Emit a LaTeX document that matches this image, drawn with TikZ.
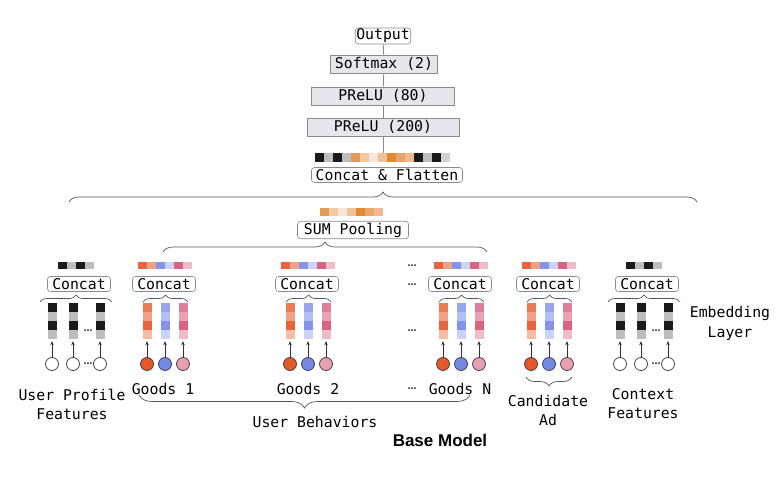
\documentclass[tikz,border=0pt]{standalone}
\usepackage{fontspec}
\setmonofont{DejaVu Sans Mono}
\setsansfont{Liberation Sans}
\newfontfamily\dotfont{DejaVu Sans}
\usetikzlibrary{arrows.meta,decorations.pathreplacing}
% cell colours
\definecolor{blk}{HTML}{1A1A1A}
\definecolor{lgr}{HTML}{BDBDBD}
\definecolor{lgrB}{HTML}{D2D2D2}
\definecolor{redM}{HTML}{EC7B55}
\definecolor{redL}{HTML}{F0A286}
\definecolor{redS}{HTML}{E8643C}
\definecolor{redV}{HTML}{F5BCA6}
\definecolor{bluM}{HTML}{97A5EE}
\definecolor{bluL}{HTML}{B4BEF2}
\definecolor{bluS}{HTML}{8394EA}
\definecolor{bluV}{HTML}{CBD2F7}
\definecolor{pnkM}{HTML}{DE7E98}
\definecolor{pnkL}{HTML}{E8A2B4}
\definecolor{pnkS}{HTML}{D8647F}
\definecolor{pnkV}{HTML}{EFBCCA}
\definecolor{orA}{HTML}{E39A55}
\definecolor{orB}{HTML}{F2C9A2}
\definecolor{orC}{HTML}{F9E6D6}
\definecolor{orB2}{HTML}{F0C29C}
\definecolor{orD}{HTML}{E08A33}
\definecolor{orE}{HTML}{E9A56C}
\definecolor{orF}{HTML}{F0BA8E}
% circles and lines
\definecolor{redC}{HTML}{E4582C}
\definecolor{bluC}{HTML}{7488E6}
\definecolor{pnkC}{HTML}{E79FB2}
\definecolor{circline}{HTML}{444444}
\definecolor{boxline}{HTML}{8A8A8A}
\definecolor{layerfill}{HTML}{E6E6EC}
\definecolor{bracecol}{HTML}{555555}
\definecolor{arrcol}{HTML}{333333}
\tikzset{
  % default text
  every node/.append style={font=\ttfamily\fontsize{14.8}{19}\selectfont},
  % rounded white box
  rbox/.style={draw=boxline, rounded corners=3pt, fill=white, line width=0.6pt,
    inner sep=1.5pt, minimum height=15pt},
  % gray layer box
  gbox/.style={draw=boxline, fill=layerfill, line width=0.6pt, inner sep=1.5pt,
    minimum height=18pt},
  concat/.style={rbox, minimum width=63pt},
  % feature circle
  feat/.style={circle, draw=circline, line width=0.8pt, minimum size=13pt, inner sep=0pt},
  arr/.style={-{Stealth[length=4pt,width=3.5pt]}, line width=0.6pt, draw=arrcol, shorten >=2pt},
  brc/.style={decorate, decoration={brace, amplitude=#1}, draw=bracecol, line width=0.7pt},
  brc/.default=7pt,
  dots/.style={font=\dotfont\bfseries\fontsize{9}{9}\selectfont, text=arrcol, inner sep=0pt},
  lbl/.style={align=center},
}
% row of cells: left x, top y, height, colours
\newcommand{\cellbar}[4]{%
  \foreach \col [count=\i from 0] in {#4}
    \fill[\col] ({#1+9*\i},#2) rectangle ++(9,#3);
}
% embedding column: name, centre x, colours top to bottom
\newcommand{\embcol}[3]{%
  \foreach \col [count=\i from 0] in {#3}
    \fill[\col] ({#2-4.5},{303+9*\i}) rectangle ++(9,9);
  \node[inner sep=0pt, minimum width=9pt, minimum height=36pt] (#1) at (#2,321) {};
}
\begin{document}
\begin{tikzpicture}[x=1pt, y=-1pt]
  \useasboundingbox (0,0) rectangle (778,476);

  % MLP tower
  \node[rbox, inner sep=1pt, minimum height=13pt] (out) at (383,36) {Output};
  \node[gbox, minimum width=107pt] (soft) at (384,64) {Softmax (2)};
  \node[gbox, minimum width=143pt] (p80) at (383,96) {PReLU (80)};
  \node[gbox, minimum width=152pt] (p200) at (383,127) {PReLU (200)};
  \coordinate (fbar) at (383,153);
  \draw[boxline, line width=0.8pt] (out) -- (soft);
  \draw[boxline, line width=0.8pt] (soft) -- (p80);
  \draw[boxline, line width=0.8pt] (p80) -- (p200);
  \draw[boxline, line width=0.8pt] (p200) -- (fbar);
  \cellbar{315}{153}{9}{blk,lgr,blk,lgr,orA,orB,orC,orB2,orD,orE,orF,blk,lgr,blk,lgrB}
  \node[rbox, minimum width=151pt] (flat) at (387,175) {Concat \& Flatten};
  \draw[brc=10pt] (69,202) -- (697,202);

  % pooling
  \cellbar{320}{208}{8}{orA,orB,orC,orB2,orD,orE,orF}
  \node[rbox, minimum width=111pt, minimum height=17pt] (pool) at (353,230) {SUM Pooling};
  \draw[brc=10pt] (163,252) -- (487,252);

  % gray feature groups
  \foreach \g/\x in {up/52, cx/620} {
    \cellbar{\x+6}{262}{7}{blk,lgr,blk,lgr}
    \node[concat] (\g c) at (\x+27,284) {Concat};
    \draw[brc] (\x-12,302) -- (\x+60,302);
    \embcol{\g v1}{\x}{blk,lgr,blk,lgr}
    \embcol{\g v2}{\x+21}{blk,lgr,blk,lgr}
    \embcol{\g v3}{\x+48}{blk,lgr,blk,lgr}
    \node[dots] (\g d1) at (\x+36,331) {…};
    \node[feat, fill=white] (\g o1) at (\x,364) {};
    \node[feat, fill=white] (\g o2) at (\x+21,364) {};
    \node[feat, fill=white] (\g o3) at (\x+48,364) {};
    \node[dots] (\g d2) at (\x+36,364) {…};
    \foreach \k in {1,2,3} \draw[arr] (\g o\k) -- (\g v\k);
  }

  % goods and candidate ad groups
  \foreach \g/\x in {ga/147, gb/290, gn/443, ad/531} {
    \cellbar{\x-9}{262}{7}{redS,redL,bluS,bluV,pnkS,pnkV}
    \node[concat] (\g c) at (\x+17,284) {Concat};
    \draw[brc] (\x-4,302) -- (\x+41,302);
    \embcol{\g v1}{\x}{redM,redL,redS,redV}
    \embcol{\g v2}{\x+18}{bluM,bluL,bluS,bluV}
    \embcol{\g v3}{\x+36}{pnkM,pnkL,pnkS,pnkV}
    \node[feat, fill=redC] (\g o1) at (\x,364) {};
    \node[feat, fill=bluC] (\g o2) at (\x+18,364) {};
    \node[feat, fill=pnkC] (\g o3) at (\x+36,364) {};
    \foreach \k in {1,2,3} \draw[arr] (\g o\k) -- (\g v\k);
  }

  % dots before goods N
  \foreach \y [count=\n] in {266,285,331,389}
    \node[dots] (skip\n) at (412,\y) {…};

  % labels
  \node[lbl] (upl) at (72,404) {User Profile\\Features};
  \node (g1l) at (163,389) {Goods 1};
  \node (g2l) at (308,389) {Goods 2};
  \node (gnl) at (460,389) {Goods N};
  \draw[brc=13pt] (470,395) -- (139,395);
  \node (ubl) at (315,422) {User Behaviors};
  \draw[brc=9pt] (572,377) -- (526,377);
  \node[lbl] (adl) at (548,410) {Candidate\\Ad};
  \node[lbl] (cxl) at (643,404) {Context\\Features};
  \node[lbl, font=\ttfamily\fontsize{14.8}{20}\selectfont] (eml) at (730,323) {Embedding\\Layer};
  \node[font=\sffamily\bfseries\fontsize{17}{20}\selectfont] (base) at (440,440) {Base Model};
\end{tikzpicture}
\end{document}
